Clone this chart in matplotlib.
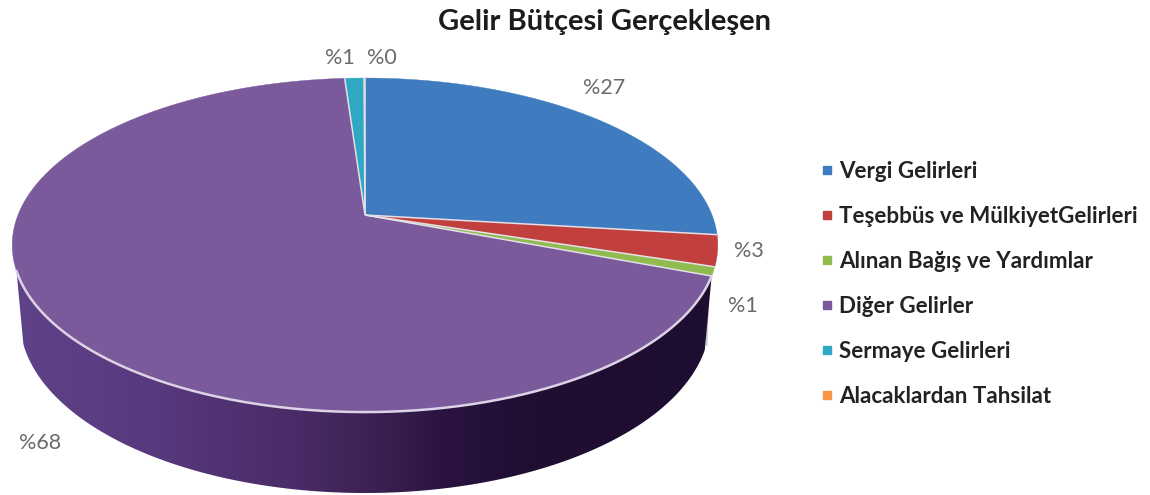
import numpy as np
import matplotlib
matplotlib.use("Agg")
import matplotlib.pyplot as plt
from matplotlib.lines import Line2D
from matplotlib.patches import PathPatch
from matplotlib.path import Path
from matplotlib.colors import LinearSegmentedColormap

title = "Gelir Bütçesi Gerçekleşen"
categories = ["Vergi Gelirleri", "Teşebbüs ve MülkiyetGelirleri", "Alınan Bağış ve Yardımlar",
              "Diğer Gelirler", "Sermaye Gelirleri", "Alacaklardan Tahsilat"]
values = [26.9, 3.0, 0.85, 68.15, 1.05, 0.05]
value_labels = ["%27", "%3", "%1", "%68", "%1", "%0"]
colors = ["#3f7cbf", "#c1403d", "#90bb4e", "#7a5a9b", "#2fa8c4", "#f79646"]

plt.rcParams["font.family"] = ["Lato", "DejaVu Sans"]
fig = plt.figure(figsize=(11.5, 4.95), dpi=100)
ax = fig.add_axes([0, 0, 1, 1])
ax.set_xlim(0, 1150)
ax.set_ylim(495, 0)
ax.axis("off")

# perspective projection of the unit disc onto the tilted top face
CX, CY, K, A, B = 365.0, 215.0, 0.18, 347.0, 161.6
def project(theta_deg):
    t = np.radians(theta_deg)
    u, v = np.sin(t), -np.cos(t)
    d = 1 - K * v
    return CX + A * u / d, CY + B * v / d

fractions = np.array(values) / np.sum(values) * 360.0
ends = np.cumsum(fractions)
starts = ends - fractions

# side wall of the largest slice
big = int(np.argmax(values))
th_top = np.linspace(starts[big], 251, 300)
xt, yt = project(th_top)
psi = np.radians(np.linspace(262, 100, 300))
xb = 365 + 345 * np.sin(psi)
yb = 320 - 173 * np.cos(psi)
poly = np.column_stack([np.r_[xt, xb], np.r_[yt, yb]])
clip = PathPatch(Path(np.vstack([poly, poly[0]]), closed=True), transform=ax.transData,
                 facecolor="none", edgecolor="none")
ax.add_patch(clip)
ramp = LinearSegmentedColormap.from_list("side", [
    (0.00, "#5f4389"), (0.20, "#57397e"), (0.40, "#4a2c68"), (0.52, "#3a2153"),
    (0.62, "#2a1340"), (0.74, "#200e33"), (1.00, "#1d0d30")])
im = ax.imshow(np.linspace(0, 1, 512)[None, :], cmap=ramp, extent=(12, 712, 495, 0),
               aspect="auto", zorder=1, interpolation="bilinear")
im.set_clip_path(clip)
ax.set_xlim(0, 1150)
ax.set_ylim(495, 0)
ax.plot([708.5, 706.5], [288, 345], color="#a9a6ad", lw=1.2, alpha=0.7, zorder=0.9)

# top face
for s, e, c in zip(starts, ends, colors):
    xs, ys = project(np.linspace(s, e, max(int(e - s) * 3, 8)))
    ax.fill(np.r_[CX, xs], np.r_[CY, ys], facecolor=c, edgecolor=c,
            linewidth=0.3, zorder=2)
for a in starts:
    xe, ye = project(a)
    ax.plot([CX, xe], [CY, ye], color="#e4e0ea", lw=1.1, zorder=2.2, solid_capstyle="butt")
ax.plot(xt, yt, color="#dcd4e6", lw=1.8, zorder=2.3, solid_capstyle="round")

# data labels
label_xy = [(604, 88), (749, 251), (743, 306), (40, 443), (340, 58), (382, 58)]
for (x, y), t in zip(label_xy, value_labels):
    ax.text(x, y, t, ha="center", va="center", fontsize=15.5, color="#6a6a6a", zorder=3)

ax.text(604, 22, title, ha="center", va="center", fontsize=21, fontweight="bold", color="#1c1c1c")

handles = [Line2D([], [], linestyle="none", marker="s", markersize=5.8, color=c) for c in colors]
leg = ax.legend(handles, categories, loc="upper left", bbox_to_anchor=(815 / 1150, 1 - 161 / 495),
                frameon=False, prop={"family": "Lato", "weight": "bold", "size": 16.1},
                labelcolor="#222222", labelspacing=1.07, handletextpad=0.0, handlelength=1.067,
                borderpad=0, borderaxespad=0)

fig.savefig("out.png", dpi=100, facecolor="white")
